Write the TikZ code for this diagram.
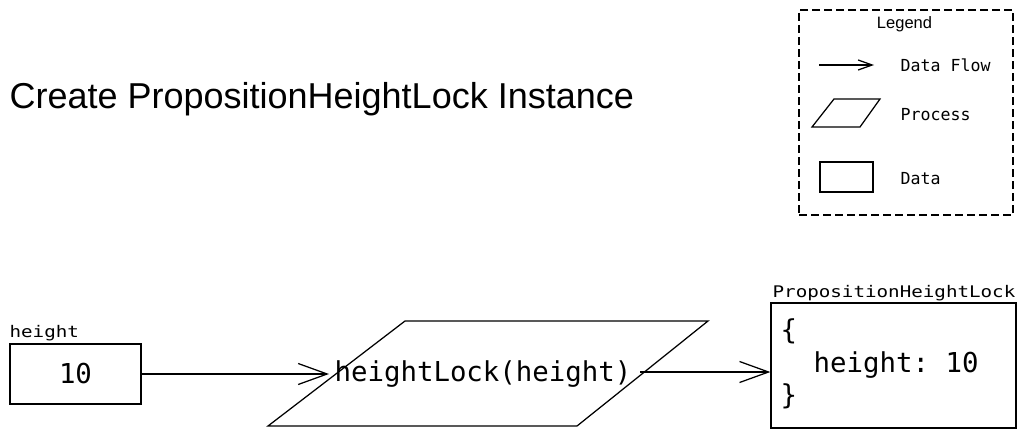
\documentclass[tikz,border=0pt]{standalone}
\usepackage{fontspec}
\setmainfont{Liberation Sans}
\newfontfamily\mono{DejaVu Sans Mono}
\newfontfamily\monowide[FakeStretch=1.2]{DejaVu Sans Mono}
\usetikzlibrary{arrows.meta}
\frenchspacing
\begin{document}
\begin{tikzpicture}[x=1pt,y=-1pt,line width=1.25pt,
  flow/.style={-{Straight Barb[length=29pt,width=21pt]}},
  legflow/.style={-{Straight Barb[length=14pt,width=10pt]}},
  databox/.style={draw,rectangle,inner sep=0pt},
  lbl/.style={inner sep=0pt,anchor=base west,font=\monowide\fontsize{16}{18}\selectfont},
  legtxt/.style={inner sep=0pt,anchor=base west,font=\mono\fontsize{16.6}{18}\selectfont},
  big/.style={font=\mono\fontsize{27.4}{32.5}\selectfont}]
\useasboundingbox (0,0) rectangle (1030,439);
% title
\node[inner sep=0pt,anchor=base west,font=\fontsize{36}{40}\selectfont] (title) at (9,108) {Create PropositionHeightLock Instance};
% legend
\node[draw,dashed,dash pattern=on 8pt off 4pt,minimum width=214pt,minimum height=205pt,inner sep=0pt] (legend) at (906,112.5) {};
\node[inner sep=0pt,anchor=base,font=\fontsize{16.5}{18}\selectfont] (legtitle) at (904.5,28) {Legend};
\coordinate (la) at (819,65);
\coordinate (lb) at (874,65);
\draw[legflow] (la) -- (lb);
\node[legtxt] (ltflow) at (900,71) {Data Flow};
\draw (834,99) -- (880,99) -- (860,127) -- (812,127) -- cycle;
\node[legtxt] (ltproc) at (900,120) {Process};
\node[databox,minimum width=53pt,minimum height=30pt] (legdata) at (846.5,177) {};
\node[legtxt] (ltdata) at (900,184) {Data};
% input
\node[lbl] (hlabel) at (9,337) {height};
\node[databox,minimum width=131pt,minimum height=60pt,big] (ten) at (75.5,374) {10};
% process
\draw (405,321) -- (708,321) -- (577,426) -- (268,426) -- cycle;
\node[big,inner sep=0pt] (proc) at (483,374) {heightLock(height)};
\coordinate (pin) at (329,374);
\draw[flow] (ten.east) -- (pin);
% output
\node[lbl] (olabel) at (772,297) {PropositionHeightLock};
\node[databox,minimum width=245pt,minimum height=125pt] (outbox) at (893.5,365.5) {};
\node[big,inner sep=0pt,anchor=west,align=left] (outtxt) at (780,364) {\{\\\ \ height: 10\\\}};
\coordinate (pout) at (640,372);
\draw[flow] (pout) -- (pout -| outbox.west);
\end{tikzpicture}
\end{document}
